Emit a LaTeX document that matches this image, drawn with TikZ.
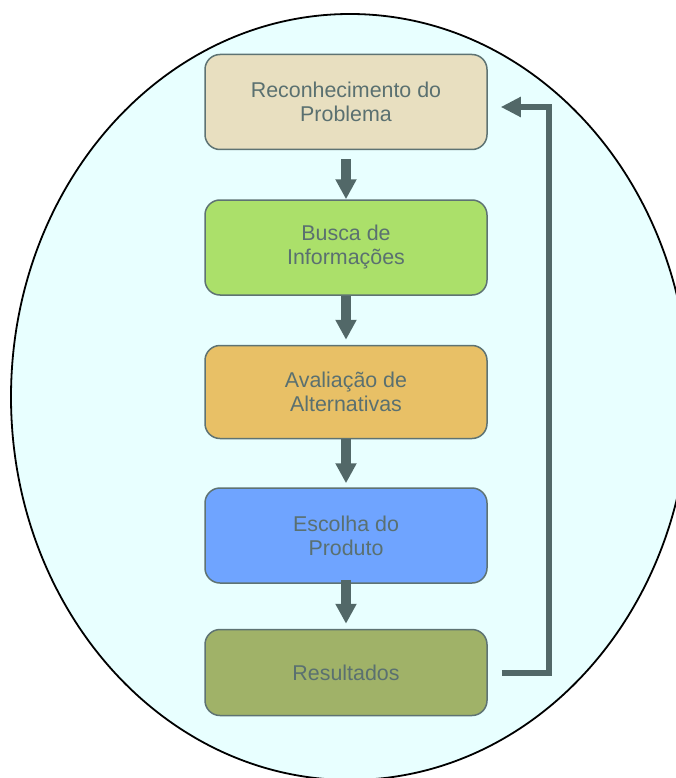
\documentclass[tikz,border=0pt]{standalone}
\usepackage{fontspec}
\setmainfont{Liberation Sans}
\usepackage{xcolor}
\definecolor{mycyan}{RGB}{232,255,255}
\definecolor{mytan}{RGB}{232,223,192}
\definecolor{mygreen}{RGB}{171,224,106}
\definecolor{myorange}{RGB}{232,192,102}
\definecolor{myblue}{RGB}{111,164,255}
\definecolor{myolive}{RGB}{160,178,104}
\definecolor{myedge}{RGB}{94,115,115}
\definecolor{mytext}{RGB}{90,112,112}
\definecolor{myarrow}{RGB}{82,104,104}
\usetikzlibrary{positioning,arrows.meta}
\tikzstyle{stage} = [draw=myedge, line width=1.5pt, rectangle, rounded corners=15pt,
    minimum width=282pt, minimum height=95pt, text=mytext, align=center,
    font=\fontsize{21.4}{24}\selectfont]
\tikzstyle{arrow} = [draw=myarrow, line width=10pt, -{Triangle[width=20pt,length=20pt]}]
\tikzstyle{feedback} = [draw=myarrow, line width=6pt, -{Triangle[width=19pt,length=20pt]}]

\begin{document}
\begin{tikzpicture}[x=1pt,y=-1pt]
\fill[white] (0,0) rectangle (675,778);
\useasboundingbox (0,0) rectangle (675,778);
\draw[fill=mycyan, line width=1.8pt] (350,397) ellipse [x radius=339pt, y radius=383pt];
\node[stage, fill=mytan] (rec) at (346,102) {Reconhecimento do\\Problema};
\node[stage, fill=mygreen, below=49pt of rec] (busca) {Busca de\\Informações};
\node[stage, fill=myorange, minimum height=93pt, below=49pt of busca] (aval) {Avaliação de\\Alternativas};
\node[stage, fill=myblue, below=48pt of aval] (escolha) {Escolha do\\Produto};
\node[stage, fill=myolive, minimum height=86pt, below=45pt of escolha] (res) {Resultados};
\draw[arrow] ([yshift=-9pt]rec.south) -- (busca.north);
\draw[arrow] (busca.south) -- ([yshift=5pt]aval.north);
\draw[arrow] (aval.south) -- ([yshift=4pt]escolha.north);
\draw[arrow] ([yshift=4pt]escolha.south) -- ([yshift=5pt]res.north);
\coordinate (back) at ([xshift=61pt,yshift=-5pt]rec.east);
\draw[feedback] ([xshift=14pt]res.east) -| (back) -- ([xshift=13pt,yshift=-5pt]rec.east);
\end{tikzpicture}
\end{document}
